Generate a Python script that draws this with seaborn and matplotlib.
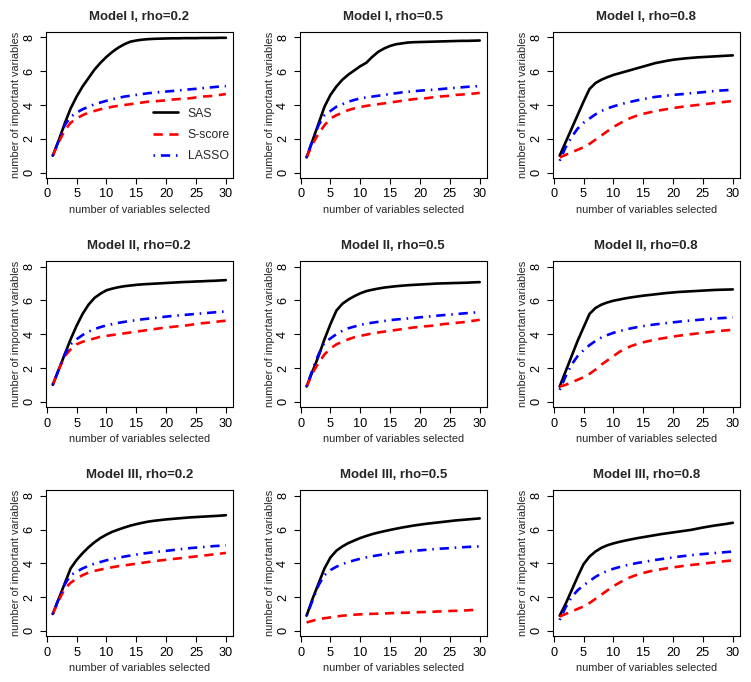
import numpy as np
import pandas as pd
import matplotlib
matplotlib.use("Agg")
import matplotlib.pyplot as plt
import seaborn as sns

sns.set_style("ticks")
plt.rcParams['font.family'] = ['Liberation Sans', 'DejaVu Sans']

# number of variables selected
n_selected = list(range(1, 31))

models = ["Model I", "Model II", "Model III"]
rhos = ["0.2", "0.5", "0.8"]
methods = ["SAS", "S-score", "LASSO"]

# Model I
sas_1_02 = [1, 1.9, 2.9, 3.8, 4.5, 5.1, 5.6, 6.1, 6.5, 6.85, 7.15, 7.4, 7.6, 7.75, 7.82,
            7.87, 7.9, 7.92, 7.93, 7.94, 7.95, 7.95, 7.96, 7.96, 7.96, 7.97, 7.97, 7.97, 7.98, 7.98]
ss_1_02 = [1, 1.8, 2.5, 2.95, 3.2, 3.4, 3.55, 3.65, 3.75, 3.82, 3.9, 3.95, 4.0, 4.05, 4.1,
           4.15, 4.2, 4.22, 4.25, 4.28, 4.32, 4.35, 4.38, 4.4, 4.45, 4.5, 4.52, 4.55, 4.6, 4.65]
las_1_02 = [1, 1.9, 2.8, 3.3, 3.55, 3.75, 3.9, 4.05, 4.15, 4.25, 4.35, 4.42, 4.5, 4.55, 4.6,
            4.65, 4.7, 4.73, 4.77, 4.8, 4.83, 4.86, 4.9, 4.93, 4.96, 5.0, 5.03, 5.06, 5.1, 5.12]

sas_1_05 = [0.9, 1.9, 2.9, 3.9, 4.6, 5.1, 5.5, 5.8, 6.05, 6.3, 6.5, 6.85, 7.15, 7.35, 7.5,
            7.6, 7.65, 7.7, 7.72, 7.73, 7.74, 7.75, 7.76, 7.77, 7.78, 7.79, 7.8, 7.8, 7.81, 7.82]
ss_1_05 = [0.9, 1.7, 2.3, 2.8, 3.2, 3.4, 3.55, 3.7, 3.8, 3.88, 3.95, 4.0, 4.05, 4.1, 4.15,
           4.2, 4.25, 4.3, 4.35, 4.38, 4.4, 4.45, 4.5, 4.52, 4.55, 4.6, 4.62, 4.65, 4.68, 4.72]
las_1_05 = [0.9, 1.9, 2.8, 3.4, 3.65, 3.9, 4.05, 4.2, 4.3, 4.4, 4.45, 4.5, 4.55, 4.6, 4.65,
            4.7, 4.75, 4.78, 4.82, 4.85, 4.88, 4.9, 4.93, 4.96, 5.0, 5.02, 5.05, 5.08, 5.1, 5.12]

sas_1_08 = [1, 1.8, 2.6, 3.4, 4.2, 4.95, 5.3, 5.5, 5.65, 5.78, 5.88, 5.98, 6.08, 6.18, 6.28,
            6.38, 6.48, 6.55, 6.62, 6.68, 6.72, 6.76, 6.79, 6.82, 6.84, 6.86, 6.88, 6.9, 6.92, 6.94]
ss_1_08 = [0.9, 1.05, 1.2, 1.35, 1.5, 1.7, 1.95, 2.2, 2.45, 2.7, 2.9, 3.1, 3.25, 3.38, 3.48,
           3.56, 3.63, 3.7, 3.76, 3.82, 3.87, 3.92, 3.96, 4.0, 4.04, 4.08, 4.12, 4.16, 4.2, 4.24]
las_1_08 = [0.7, 1.5, 2.1, 2.6, 2.95, 3.2, 3.45, 3.65, 3.8, 3.92, 4.02, 4.12, 4.2, 4.28, 4.35,
            4.42, 4.48, 4.52, 4.56, 4.6, 4.63, 4.66, 4.7, 4.73, 4.76, 4.8, 4.83, 4.86, 4.88, 4.9]

# Model II
sas_2_02 = [1, 1.9, 2.8, 3.7, 4.5, 5.2, 5.75, 6.15, 6.4, 6.6, 6.7, 6.78, 6.84, 6.88, 6.92,
            6.95, 6.97, 6.99, 7.01, 7.03, 7.05, 7.07, 7.09, 7.1, 7.12, 7.13, 7.15, 7.16, 7.18, 7.2]
ss_2_02 = [1, 1.9, 2.7, 3.1, 3.4, 3.55, 3.65, 3.75, 3.85, 3.9, 3.95, 4.0, 4.05, 4.1, 4.15,
           4.2, 4.25, 4.3, 4.35, 4.4, 4.43, 4.47, 4.5, 4.55, 4.6, 4.65, 4.68, 4.72, 4.76, 4.8]
las_2_02 = [1, 1.9, 2.8, 3.4, 3.7, 3.95, 4.15, 4.3, 4.42, 4.52, 4.6, 4.67, 4.73, 4.78, 4.83,
            4.88, 4.92, 4.96, 5.0, 5.04, 5.08, 5.11, 5.14, 5.17, 5.2, 5.23, 5.26, 5.29, 5.32, 5.35]

sas_2_05 = [0.9, 1.8, 2.7, 3.7, 4.6, 5.4, 5.8, 6.05, 6.25, 6.42, 6.55, 6.63, 6.7, 6.76, 6.8,
            6.84, 6.87, 6.9, 6.92, 6.94, 6.96, 6.98, 7.0, 7.01, 7.02, 7.03, 7.04, 7.05, 7.07, 7.08]
ss_2_05 = [0.9, 1.7, 2.3, 2.8, 3.15, 3.4, 3.55, 3.7, 3.82, 3.9, 3.97, 4.05, 4.1, 4.15, 4.2,
           4.25, 4.3, 4.35, 4.4, 4.43, 4.47, 4.5, 4.55, 4.6, 4.63, 4.67, 4.7, 4.75, 4.8, 4.85]
las_2_05 = [0.9, 1.9, 2.8, 3.5, 3.75, 4.0, 4.2, 4.35, 4.45, 4.55, 4.62, 4.68, 4.73, 4.78, 4.83,
            4.87, 4.9, 4.93, 4.96, 5.0, 5.03, 5.06, 5.1, 5.13, 5.16, 5.19, 5.22, 5.25, 5.28, 5.3]

sas_2_08 = [0.9, 1.8, 2.7, 3.6, 4.4, 5.2, 5.55, 5.75, 5.88, 5.98, 6.05, 6.12, 6.18, 6.23, 6.28,
            6.32, 6.36, 6.4, 6.44, 6.47, 6.5, 6.52, 6.54, 6.56, 6.58, 6.6, 6.62, 6.63, 6.64, 6.65]
ss_2_08 = [0.9, 1.0, 1.15, 1.3, 1.45, 1.65, 1.9, 2.2, 2.45, 2.7, 2.95, 3.15, 3.3, 3.42, 3.52,
           3.6, 3.68, 3.74, 3.8, 3.86, 3.91, 3.96, 4.0, 4.04, 4.08, 4.12, 4.16, 4.2, 4.23, 4.26]
las_2_08 = [0.7, 1.5, 2.2, 2.7, 3.05, 3.35, 3.6, 3.8, 3.95, 4.08, 4.18, 4.27, 4.35, 4.42, 4.48,
            4.53, 4.58, 4.62, 4.66, 4.7, 4.74, 4.78, 4.81, 4.84, 4.87, 4.9, 4.93, 4.95, 4.97, 4.99]

# Model III
sas_3_02 = [1, 1.9, 2.8, 3.7, 4.2, 4.6, 4.95, 5.25, 5.5, 5.7, 5.87, 6.0, 6.12, 6.23, 6.32,
            6.4, 6.47, 6.52, 6.56, 6.6, 6.63, 6.66, 6.69, 6.72, 6.74, 6.76, 6.78, 6.8, 6.82, 6.85]
ss_3_02 = [1, 1.8, 2.5, 2.85, 3.1, 3.3, 3.45, 3.55, 3.63, 3.7, 3.77, 3.83, 3.88, 3.93, 3.98,
           4.03, 4.08, 4.13, 4.17, 4.21, 4.25, 4.29, 4.33, 4.37, 4.41, 4.45, 4.49, 4.53, 4.57, 4.62]
las_3_02 = [1, 1.9, 2.75, 3.3, 3.5, 3.7, 3.85, 3.98, 4.08, 4.18, 4.26, 4.33, 4.4, 4.46, 4.52,
            4.57, 4.62, 4.66, 4.7, 4.74, 4.78, 4.82, 4.86, 4.9, 4.93, 4.96, 4.99, 5.02, 5.04, 5.06]

sas_3_05 = [0.9, 1.9, 2.8, 3.7, 4.35, 4.75, 5.0, 5.2, 5.35, 5.5, 5.62, 5.73, 5.82, 5.9, 5.98,
            6.05, 6.12, 6.18, 6.24, 6.29, 6.34, 6.38, 6.42, 6.46, 6.5, 6.54, 6.57, 6.6, 6.63, 6.66]
ss_3_05 = [0.5, 0.6, 0.7, 0.75, 0.8, 0.85, 0.9, 0.93, 0.96, 0.98, 1.0, 1.01, 1.02, 1.03, 1.05,
           1.06, 1.07, 1.08, 1.1, 1.11, 1.12, 1.13, 1.15, 1.16, 1.18, 1.19, 1.2, 1.22, 1.24, 1.25]
las_3_05 = [0.9, 1.8, 2.7, 3.3, 3.6, 3.8, 3.95, 4.08, 4.18, 4.27, 4.35, 4.42, 4.48, 4.54, 4.59,
            4.63, 4.67, 4.71, 4.74, 4.77, 4.8, 4.83, 4.86, 4.88, 4.9, 4.93, 4.95, 4.97, 4.99, 5.0]

sas_3_08 = [0.9, 1.6, 2.4, 3.2, 3.95, 4.4, 4.7, 4.92, 5.07, 5.18, 5.27, 5.35, 5.42, 5.49, 5.55,
            5.61, 5.67, 5.73, 5.78, 5.83, 5.88, 5.93, 5.98, 6.05, 6.12, 6.18, 6.24, 6.29, 6.34, 6.4]
ss_3_08 = [0.85, 1.0, 1.15, 1.3, 1.45, 1.65, 1.9, 2.15, 2.4, 2.65, 2.85, 3.05, 3.2, 3.33, 3.43,
           3.52, 3.59, 3.65, 3.71, 3.76, 3.81, 3.86, 3.9, 3.94, 3.98, 4.02, 4.06, 4.1, 4.14, 4.18]
las_3_08 = [0.65, 1.4, 2.0, 2.4, 2.7, 2.95, 3.2, 3.4, 3.55, 3.68, 3.78, 3.87, 3.95, 4.02, 4.08,
            4.14, 4.2, 4.25, 4.3, 4.35, 4.4, 4.44, 4.48, 4.52, 4.55, 4.58, 4.61, 4.64, 4.67, 4.7]

panels = [
    [(sas_1_02, ss_1_02, las_1_02), (sas_1_05, ss_1_05, las_1_05), (sas_1_08, ss_1_08, las_1_08)],
    [(sas_2_02, ss_2_02, las_2_02), (sas_2_05, ss_2_05, las_2_05), (sas_2_08, ss_2_08, las_2_08)],
    [(sas_3_02, ss_3_02, las_3_02), (sas_3_05, ss_3_05, las_3_05), (sas_3_08, ss_3_08, las_3_08)],
]

colors = {"SAS": "black", "S-score": "#ff0000", "LASSO": "#0000ff"}
styles = {"SAS": "-", "S-score": (0, (3.5, 2.5)), "LASSO": (0, (0.6, 2.2, 3.5, 2.2))}

fig = plt.figure(figsize=(7.51, 6.82), dpi=100)

lefts = [0.061, 0.399, 0.736]
bottoms = [0.739, 0.403, 0.067]
w, h = 0.249, 0.214

for i, model in enumerate(models):
    for j, rho in enumerate(rhos):
        ax = fig.add_axes([lefts[j], bottoms[i], w, h])
        for name, ys in zip(methods, panels[i][j]):
            sns.lineplot(x=n_selected, y=ys, ax=ax, color=colors[name],
                         linestyle=styles[name], linewidth=1.9, label=name)
        ax.set_xlim(-0.16, 31.16)
        ax.set_ylim(-0.32, 8.32)
        ax.set_xticks([0, 5, 10, 15, 20, 25, 30])
        ax.set_yticks([0, 2, 4, 6, 8])
        for lbl in ax.get_yticklabels():
            lbl.set_rotation(90)
            lbl.set_va("center")
        ax.tick_params(labelsize=9.2, length=4, width=0.8, colors="black", pad=3.5)
        for s in ax.spines.values():
            s.set_visible(True)
            s.set_linewidth(0.8)
            s.set_color("black")
        ax.set_title(f"{model}, rho={rho}", fontsize=9.5, fontweight="bold", pad=9)
        ax.set_xlabel("number of variables selected", fontsize=7.9, labelpad=3)
        ax.set_ylabel("number of important variables", fontsize=7.9, labelpad=1.5)
        if i == 0 and j == 0:
            ax.legend(loc="upper left", bbox_to_anchor=(0.53, 0.54), frameon=False,
                      fontsize=8.8, handlelength=2.0, labelspacing=0.75,
                      handletextpad=0.8, borderpad=0.2)
        else:
            ax.get_legend().remove()

fig.savefig("out.png", dpi=100, facecolor="white")
